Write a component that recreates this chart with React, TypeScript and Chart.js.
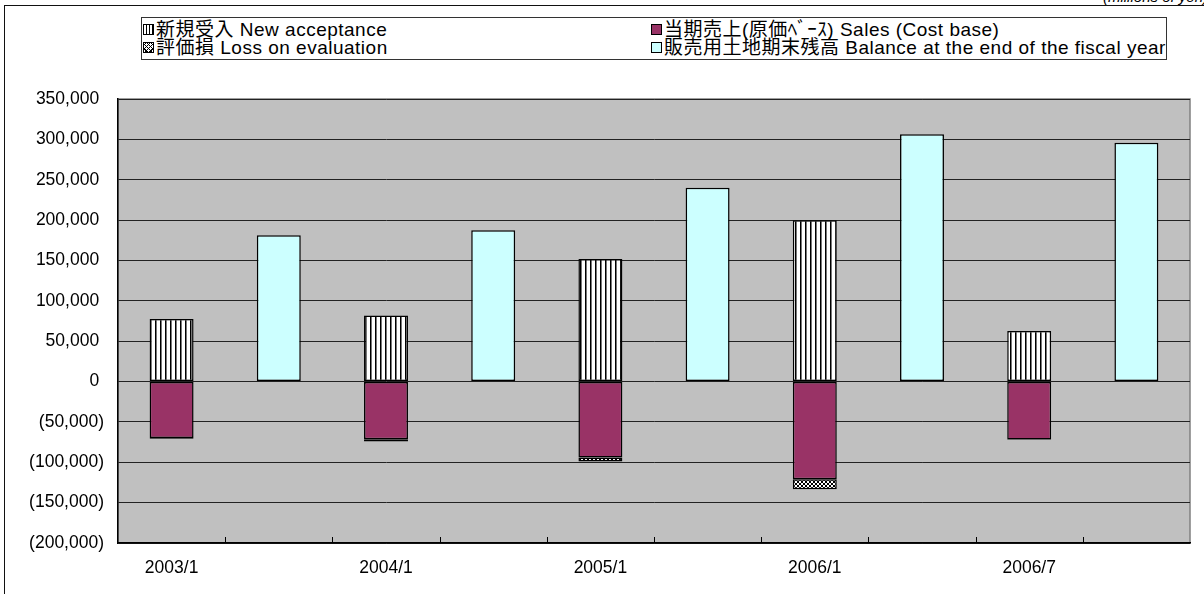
import React, { useEffect, useRef } from "react";
import { Chart, registerables } from "chart.js";

Chart.register(...registerables);

const categories = ["2003/1", "", "2004/1", "", "2005/1", "", "2006/1", "", "2006/7", ""];
const newAcceptance = [77600, null, 81700, null, 151700, null, 199900, null, 62700, null];
const sales = [-70000, null, -71500, null, -94000, null, -121000, null, -71800, null];
const lossOnEvaluation = [-1000, null, -2700, null, -5000, null, -12500, null, -700, null];
const balance = [null, 181200, null, 187400, null, 240000, null, 306300, null, 295700];
const legendLabels = [
  "新規受入 New acceptance",
  "当期売上(原価ﾍﾞｰｽ) Sales (Cost base)",
  "評価損 Loss on evaluation",
  "販売用土地期末残高 Balance at the end of the fiscal year",
];
const unitLabel = "(millions of yen)";
const yMin = -200000;
const yMax = 350000;
const yStep = 50000;

const FONT = "'Liberation Sans', 'Noto Sans CJK JP', Arial, sans-serif";

function makeStripe(): CanvasPattern | string {
  const c = document.createElement("canvas");
  c.width = 5;
  c.height = 5;
  const g = c.getContext("2d");
  if (!g) return "#fff";
  g.fillStyle = "#fff";
  g.fillRect(0, 0, 5, 5);
  g.fillStyle = "#000";
  g.fillRect(0, 0, 1, 5);
  g.fillStyle = "#777";
  g.fillRect(1, 0, 1, 5);
  return g.createPattern(c, "repeat") || "#fff";
}

function makeCross(): CanvasPattern | string {
  const c = document.createElement("canvas");
  c.width = 4;
  c.height = 4;
  const g = c.getContext("2d");
  if (!g) return "#888";
  g.fillStyle = "#fff";
  g.fillRect(0, 0, 4, 4);
  g.fillStyle = "#000";
  for (let i = 0; i < 4; i++) {
    g.fillRect(i, i, 1, 1);
    g.fillRect(i, 3 - i, 1, 1);
  }
  return g.createPattern(c, "repeat") || "#888";
}

const fmt = (v: number) => Math.abs(v).toLocaleString("en-US");

const plotBg = {
  id: "plotBg",
  beforeDraw(chart: any) {
    const { ctx, chartArea } = chart;
    const { left, top, right, bottom } = chartArea;
    ctx.save();
    ctx.fillStyle = "#C0C0C0";
    ctx.fillRect(left, top, right - left, bottom - top);
    ctx.strokeStyle = "#808080";
    ctx.lineWidth = 1.5;
    ctx.strokeRect(left, top, right - left, bottom - top);
    ctx.restore();
  },
  afterDatasetsDraw(chart: any) {
    const { ctx, chartArea } = chart;
    const xs = chart.scales.x;
    const n = categories.length;
    ctx.save();
    ctx.strokeStyle = "#000";
    ctx.lineWidth = 1;
    for (let i = 1; i < n; i++) {
      const x = Math.round((xs.getPixelForValue(i - 1) + xs.getPixelForValue(i)) / 2) + 0.5;
      ctx.beginPath();
      ctx.moveTo(x, chartArea.bottom);
      ctx.lineTo(x, chartArea.bottom - 6);
      ctx.stroke();
    }
    ctx.restore();
  },
};

const swatchBase: React.CSSProperties = {
  display: "inline-block",
  width: 9,
  height: 9,
  border: "1px solid #000",
  marginRight: 2,
  verticalAlign: "middle",
  position: "relative",
  top: -1,
};

const swatches: React.CSSProperties[] = [
  { background: "repeating-linear-gradient(90deg, #fff 0 2px, #000 2px 3px)" },
  { background: "#993366" },
  {
    background:
      "repeating-linear-gradient(45deg, transparent 0 2px, #000 2px 3px), repeating-linear-gradient(-45deg, transparent 0 2px, #000 2px 3px), #fff",
  },
  { background: "#CCFFFF" },
];

export default function App() {
  const ref = useRef<HTMLCanvasElement | null>(null);

  useEffect(() => {
    if (!ref.current) return;
    const stripe = makeStripe();
    const cross = makeCross();
    const common = {
      borderColor: "#000",
      borderWidth: 1.5,
      borderSkipped: false,
      barPercentage: 0.41,
      categoryPercentage: 1,
      stack: "s",
    };
    const chart = new Chart(ref.current, {
      type: "bar",
      data: {
        labels: categories,
        datasets: [
          { ...common, label: legendLabels[0], data: newAcceptance, backgroundColor: stripe },
          { ...common, label: legendLabels[1], data: sales, backgroundColor: "#993366" },
          { ...common, label: legendLabels[2], data: lossOnEvaluation, backgroundColor: cross },
          { ...common, label: legendLabels[3], data: balance, backgroundColor: "#CCFFFF" },
        ] as any,
      },
      options: {
        responsive: false,
        devicePixelRatio: 1,
        animation: false,
        layout: { padding: { top: 99, right: 14, left: 0, bottom: 0 } },
        plugins: {
          legend: { display: false },
          tooltip: { enabled: false },
        },
        scales: {
          x: {
            stacked: true,
            grid: { display: false },
            border: { display: true, color: "#000", width: 1.5 },
            ticks: {
              autoSkip: false,
              maxRotation: 0,
              color: "#000",
              padding: 7,
              font: { family: FONT, size: 17.5 },
            },
            afterFit(s: any) {
              s.height = 51;
            },
          },
          y: {
            stacked: true,
            min: yMin,
            max: yMax,
            ticks: {
              stepSize: yStep,
              color: "#000",
              padding: 14,
              font: { family: FONT, size: 17.5 },
              callback: (v: any) => (v < 0 ? `(${fmt(v)})` : `${fmt(v)} `),
            },
            grid: { color: "#222", lineWidth: 1, drawTicks: false },
            border: { display: true, color: "#000", width: 1.5 },
            afterFit(s: any) {
              s.width = 118;
            },
          },
        },
      } as any,
      plugins: [plotBg],
    });
    return () => chart.destroy();
  }, []);

  return (
    <div
      style={{
        position: "absolute",
        left: 0,
        top: 0,
        width: 1204,
        height: 594,
        overflow: "hidden",
        background: "#fff",
        fontFamily: FONT,
      }}
    >
      <div
        style={{
          position: "absolute",
          left: 4,
          top: 5,
          width: 1260,
          height: 640,
          border: "1.5px solid #111",
          boxSizing: "border-box",
        }}
      />
      <div
        style={{
          position: "absolute",
          right: -4,
          top: -11,
          fontSize: 15,
          lineHeight: "15px",
          fontStyle: "italic",
          color: "#000",
          whiteSpace: "nowrap",
        }}
      >
        {unitLabel}
      </div>
      <canvas ref={ref} width={1204} height={594} style={{ position: "absolute", left: 0, top: 0 }} />
      <div
        style={{
          position: "absolute",
          left: 141,
          top: 17,
          width: 1026,
          height: 43,
          border: "1px solid #333",
          boxSizing: "border-box",
          background: "#fff",
          fontSize: 19,
          lineHeight: "18px",
          letterSpacing: "0.5px",
          color: "#000",
          whiteSpace: "nowrap",
        }}
      >
        {legendLabels.map((t, i) => (
          <div
            key={i}
            style={{
              position: "absolute",
              left: i % 2 === 0 ? 1 : 509,
              top: i < 2 ? 3 : 21,
            }}
          >
            <span style={{ ...swatchBase, ...swatches[i] }} />
            {t}
          </div>
        ))}
      </div>
    </div>
  );
}
